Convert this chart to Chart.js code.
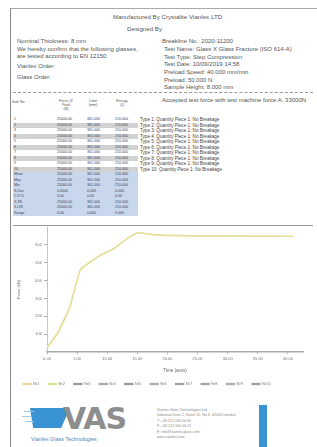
<!DOCTYPE html>
<html lang="en">
<head>
<meta charset="UTF-8">
<title>Test Report</title>
<script src="https://cdn.jsdelivr.net/npm/chart.js"></script>
<style>
  body { margin: 0; width: 317px; height: 447px; background: #fff; overflow: hidden;
         font-family: "Liberation Sans", Arial, sans-serif; color: #555; position: relative; }
  .frame { position: absolute; left: 10px; top: 8px; width: 320px; height: 450px;
           border-left: 1px solid #888; border-top: 1px solid #aaa; }
  .t { position: absolute; white-space: nowrap; font-size: 6px; line-height: 7.6px; }
  .sep { position: absolute; left: 13px; width: 300px; height: 0; border-top: 1px solid #999; }
  .row { position: absolute; left: 13px; width: 125px; height: 5.5px; font-size: 3.6px; line-height: 5.5px; color: #444; }
  .row span { position: absolute; }
  .grey { background: #d2d2d2; }
  .blue { background: #c9d7ec; }
  .type { position: absolute; left: 140px; font-size: 4.6px; line-height: 5.5px; color: #444; white-space: nowrap; }
  .hd { position: absolute; font-size: 3.6px; line-height: 4px; text-align: center; color: #555; }
  #chartBox { position: absolute; left: 14px; top: 222px; width: 296px; height: 175px; }
  .logoBar { position: absolute; background: #3a93d3; }
  .foot { position: absolute; left: 157px; font-size: 3.6px; line-height: 5.4px; color: #888; white-space: nowrap; }
</style>
</head>
<body>
<div class="frame"></div>

<div class="t" style="left:113px;top:13px;font-size:6.2px;">Manufactured By Crystalite Vianlex LTD</div>
<div class="t" style="left:127px;top:25px;font-size:6.2px;">Designed By</div>

<div class="t" style="left:17px;top:38px;">Nominal Thickness: 8 mm</div>
<div class="t" style="left:17px;top:46px;">We hereby confirm that the following glasses,</div>
<div class="t" style="left:17px;top:53px;">are tested according to EN 12150</div>
<div class="t" style="left:17px;top:63px;">Vianlex Order:</div>
<div class="t" style="left:17px;top:74px;">Glass Order:</div>

<div class="t" style="left:162px;top:38px;">Breakline No.: 2020-11200</div>
<div class="t" style="left:164px;top:46px;">Test Name: Glass X Glass Fracture (ISO 614-A)</div>
<div class="t" style="left:164px;top:54px;">Test Type: Step Compression</div>
<div class="t" style="left:164px;top:61px;">Test Date: 10/09/2019 14:58</div>
<div class="t" style="left:164px;top:69px;">Preload Speed: 40.000 mm/min</div>
<div class="t" style="left:164px;top:77px;">Preload: 50.000 N</div>
<div class="t" style="left:164px;top:84px;">Sample Height: 8.000 mm</div>

<div class="sep" style="top:92px;border-top:1px dashed #999;"></div>

<div class="hd" style="left:12px;top:100px;text-align:left;">Item No</div>
<div class="hd" style="left:56px;top:99px;width:20px;">Force @<br>Peak<br>(N)</div>
<div class="hd" style="left:84px;top:99px;width:18px;">Limit<br>(mm)</div>
<div class="hd" style="left:113px;top:99px;width:18px;">Energy<br>(J)</div>
<div class="t" style="left:162px;top:97px;">Accepted test force with test machine force A: 33000N</div>

<div id="tableRows"></div>

<div class="sep" style="top:225px;"></div>

<div id="chartBox"><canvas id="forceChart"></canvas></div>

<!-- logo -->
<div style="position:absolute;left:30px;top:408px;width:40px;height:20px;background:#3a93d3;clip-path:polygon(0 0,100% 0,78% 100%,8% 100%);"></div>
<div style="position:absolute;left:24px;top:411px;width:10px;height:1px;background:#9cc9ea;"></div>
<div style="position:absolute;left:22px;top:416px;width:10px;height:1px;background:#9cc9ea;"></div>
<div style="position:absolute;left:26px;top:421px;width:8px;height:1px;background:#9cc9ea;"></div>
<div style="position:absolute;left:63px;top:404px;font-size:30px;line-height:30px;font-weight:bold;color:#8e8e8e;letter-spacing:-1px;font-family:'DejaVu Sans',sans-serif;">VAS</div>
<div class="t" style="left:31px;top:436px;font-size:5.4px;color:#4a86c0;">Vianlex Glass Technologies</div>

<div class="foot" style="top:408px;">Vianlex Glass Technologies Ltd.<br>Industrial Zone 2, Street 15, No 8, 42000 Istanbul<br>T: +90 212 000 00 00<br>F: +90 212 000 00 01<br>E: info@vianlex-glass.com<br>www.vianlex.com</div>
<div class="logoBar" style="left:259px;top:405px;width:8px;height:42px;"></div>

<script>
  // table values
  const itemNo = ['1', '2', '3', '4', '5', '6', '7', '8', '9', '10'];
  const peakForce = ['25000.00', '25000.00', '25000.00', '25000.00', '25000.00', '25000.00', '25000.00', '25000.00', '25000.00', '25000.00'];
  const limitMm = ['361.000', '361.000', '361.000', '361.000', '361.000', '361.000', '361.000', '361.000', '361.000', '361.000'];
  const energyJ = ['210.000', '210.000', '210.000', '210.000', '210.000', '210.000', '210.000', '210.000', '210.000', '210.000'];
  const statNames = ['Mean', 'Max', 'Min', 'S.Dev', 'C.V.%', 'X-3S', 'X+3S', 'Range'];
  const statForce = ['25000.00', '25000.00', '25000.00', '0.0000', '0.00', '25000.00', '25000.00', '0.00'];
  const statLimit = ['361.000', '361.000', '361.000', '0.000', '0.00', '361.000', '361.000', '0.000'];
  const statEnergy = ['210.000', '210.000', '210.000', '0.000', '0.00', '210.000', '210.000', '0.000'];

  // chart values
  const timeSecs = [0, 1.8, 3.8, 5.5, 6.8, 9.3, 11, 13.3, 15, 17.2, 20, 25, 30, 35, 40.8];
  const forceNr1 = [27, 112, 257, 460, 497, 551, 578, 636, 668, 658, 652, 650, 649, 648, 647];
  const forceNr2 = [22, 104, 250, 455, 494, 549, 576, 634, 666, 660, 654, 651, 650, 649, 648];
  const seriesNames = ['Nr1', 'Nr2', 'Nr3', 'Nr4', 'Nr5', 'Nr6', 'Nr7', 'Nr8', 'Nr9', 'Nr10'];
  const xTicks = [0, 5, 10, 15, 20, 25, 30, 35, 40];
  const yTicks = [100, 200, 300, 400, 500, 600];

  const seriesColors = ['#f3d49a', '#dfe39a', '#9a9a9a', '#a8a8a8', '#9a9a9a', '#b0b0b0', '#a0a0a0', '#a8a8a8', '#b0b0b0', '#a0a0a0'];

  function montarTabela() {
    const box = document.getElementById('tableRows');
    let html = '';
    let y = 117;
    itemNo.forEach((n, i) => {
      html += `<div class="row ${i % 2 ? 'grey' : ''}" style="top:${y}px">` +
        `<span style="left:1px">${n}</span><span style="left:44px">${peakForce[i]}</span>` +
        `<span style="left:74px">${limitMm[i]}</span><span style="left:102px">${energyJ[i]}</span></div>`;
      html += `<div class="type" style="top:${y}px">Type ${n}: Quantity Piece 1: No Breakage</div>`;
      y += 5.5;
    });
    statNames.forEach((s, i) => {
      html += `<div class="row blue" style="top:${y}px">` +
        `<span style="left:1px">${s}</span><span style="left:44px">${statForce[i]}</span>` +
        `<span style="left:74px">${statLimit[i]}</span><span style="left:102px">${statEnergy[i]}</span></div>`;
      y += 5.5;
    });
    box.innerHTML = html;
  }

  function gerarGrafico() {
    const ctx = document.getElementById('forceChart').getContext('2d');
    const toPoints = arr => arr.map((v, i) => ({ x: timeSecs[i], y: v }));

    const datasets = seriesNames.map((name, i) => ({
      label: name,
      data: i === 0 ? toPoints(forceNr1) : (i === 1 ? toPoints(forceNr2) : []),
      borderColor: seriesColors[i],
      backgroundColor: seriesColors[i],
      borderWidth: 1.3,
      pointRadius: 0,
      tension: 0.15,
      order: i === 1 ? 0 : 1   // Nr2 desenhada por cima
    }));

    new Chart(ctx, {
      type: 'line',
      data: { datasets: datasets },
      options: {
        responsive: true,
        maintainAspectRatio: false,
        animation: false,
        layout: { padding: { top: 5, right: 7, bottom: 1, left: 0 } },
        plugins: {
          tooltip: { enabled: false },
          legend: {
            position: 'bottom',
            align: 'start',
            labels: { boxWidth: 8, boxHeight: 1, padding: 9, color: '#777', font: { size: 4 },
                      sort: (a, b) => a.datasetIndex - b.datasetIndex }
          }
        },
        scales: {
          x: {
            type: 'linear',
            min: 0,
            max: 42.5,
            afterBuildTicks: axis => { axis.ticks = xTicks.map(v => ({ value: v })); },
            ticks: { color: '#777', font: { size: 4 }, padding: 2, maxRotation: 0,
                     callback: v => Number(v).toFixed(2) },
            grid: { drawOnChartArea: false, tickLength: 2, color: '#aaa' },
            border: { color: '#aaa', width: 1.5 },
            title: { display: true, text: 'Time (secs)', color: '#666', font: { size: 4.5 }, padding: { top: 3, bottom: 0 } },
            afterFit: s => { s.height = 21; }
          },
          y: {
            min: 0,
            max: 700,
            afterBuildTicks: axis => { axis.ticks = yTicks.map(v => ({ value: v })); },
            ticks: { color: '#777', font: { size: 4 }, padding: 2, callback: v => String(v) },
            grid: { drawOnChartArea: false, tickLength: 3, color: '#aaa' },
            border: { color: '#c4c4c4', width: 1 },
            title: { display: true, text: 'Force (kN)', color: '#666', font: { size: 4 }, padding: 2 },
            afterFit: s => { s.width = 33; }
          }
        }
      }
    });
  }

  montarTabela();
  gerarGrafico();
</script>
</body>
</html>
